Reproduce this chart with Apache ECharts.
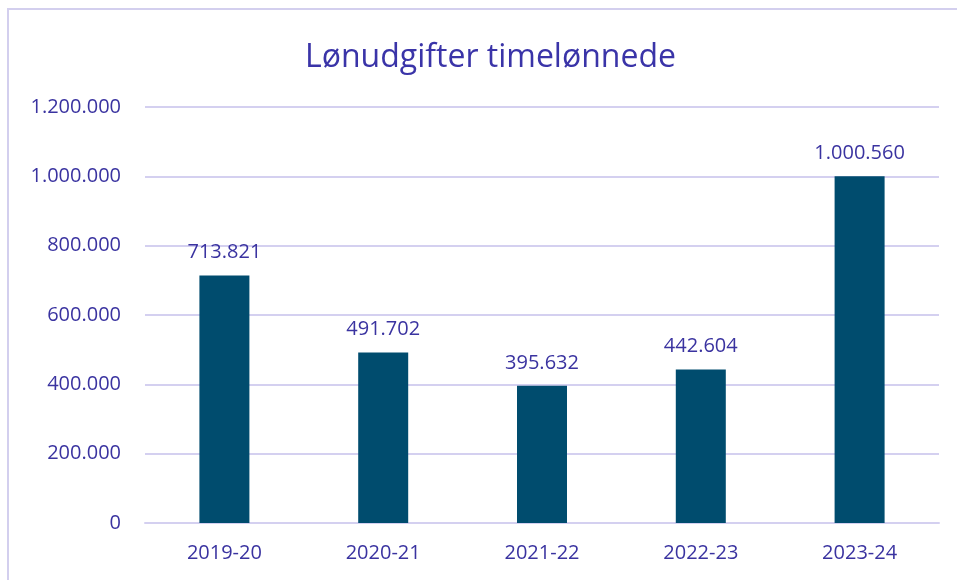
<!DOCTYPE html>
<html>
<head>
<meta charset="utf-8">
<script src="https://cdn.jsdelivr.net/npm/echarts@6/dist/echarts.min.js"></script>
<style>
html, body { margin: 0; padding: 0; background: #fff; }
#chart { position: absolute; left: 0; top: 0; width: 957px; height: 580px; }
#frame { position: absolute; left: 7px; top: 8px; width: 960px; height: 600px;
  border-left: 2px solid #d3cfee; border-top: 2px solid #d3cfee; }
</style>
</head>
<body>
<div id="frame"></div>
<div id="chart"></div>
<script>
var categories = ['2019-20', '2020-21', '2021-22', '2022-23', '2023-24'];
var values = [713821, 491702, 395632, 442604, 1000560];
var yTicks = [0, 200000, 400000, 600000, 800000, 1000000, 1200000];

var textColor = '#3a33a0';

function fmt(v) {
    return String(v).replace(/\B(?=(\d{3})+(?!\d))/g, '.');
}

var chart = echarts.init(document.getElementById('chart'));
var option = {
    backgroundColor: 'transparent',
    title: {
        text: 'Lønudgifter timelønnede',
        left: 300,
        top: 37,
        textStyle: {
            color: '#3a34a8',
            fontSize: 32,
            fontWeight: 'normal',
            fontFamily: 'Open Sans'
        }
    },
    grid: {
        left: 145,
        right: 18,
        top: 107,
        bottom: 57
    },
    xAxis: {
        type: 'category',
        data: categories,
        axisTick: { show: false },
        axisLine: { lineStyle: { color: '#d4d0f0', width: 2 } },
        axisLabel: {
            color: textColor,
            fontSize: 20,
            fontFamily: 'Open Sans',
            margin: 20
        }
    },
    yAxis: {
        type: 'value',
        min: yTicks[0],
        max: yTicks[yTicks.length - 1],
        interval: 200000,
        axisLine: { show: false },
        axisTick: { show: false },
        splitLine: { lineStyle: { color: '#d4d0f0', width: 2 } },
        axisLabel: {
            color: textColor,
            fontSize: 20,
            fontFamily: 'Open Sans',
            margin: 24,
            formatter: function (v) { return fmt(v); }
        }
    },
    series: [{
        type: 'bar',
        data: values,
        barWidth: 50,
        itemStyle: { color: '#004c6e' },
        label: {
            show: true,
            position: 'top',
            distance: 13,
            color: textColor,
            fontSize: 20,
            fontFamily: 'Open Sans',
            formatter: function (p) { return fmt(p.value); }
        },
        animation: false
    }]
};
chart.setOption(option);
</script>
</body>
</html>
